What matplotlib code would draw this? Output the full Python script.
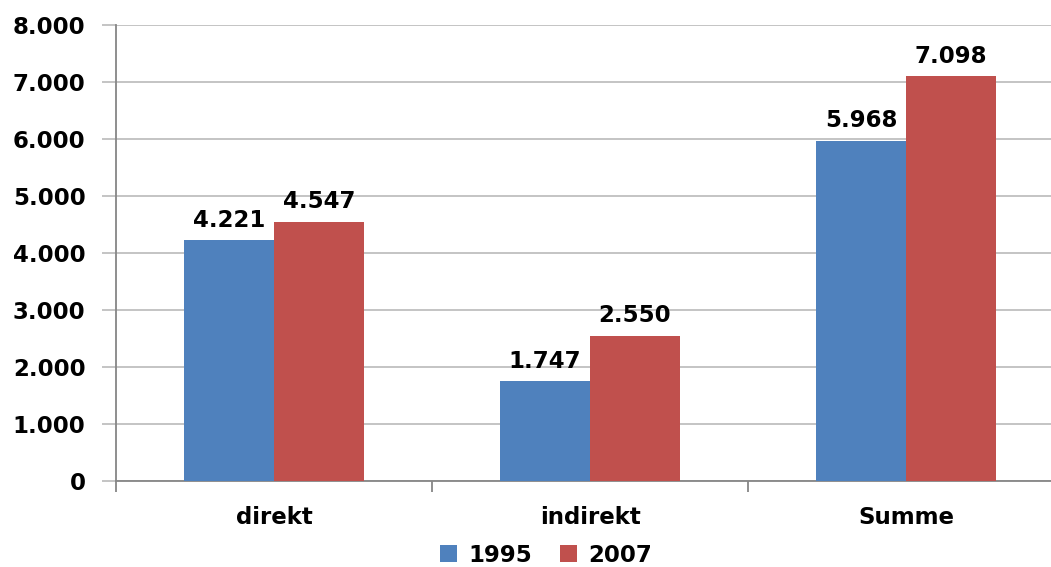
import numpy as np
import matplotlib.pyplot as plt

categories = ['direkt', 'indirekt', 'Summe']
series_names = ['1995', '2007']
values_1995 = [4221, 1747, 5968]
values_2007 = [4547, 2550, 7098]
yticks = [0, 1000, 2000, 3000, 4000, 5000, 6000, 7000, 8000]

colors = ['#4f81bd', '#c0504d']
fs = 16.5

def de_fmt(v):
    return '{:,.0f}'.format(v).replace(',', '.')

plt.rcParams['font.family'] = ['DejaVu Sans']
plt.rcParams['font.weight'] = 'bold'

fig = plt.figure(figsize=(10.51, 5.67), dpi=100)
ax = fig.add_axes([116 / 1051, 1 - 481 / 567, 948 / 1051, 456 / 567])

x = np.arange(len(categories))
w = 0.285
b1 = ax.bar(x - w / 2, values_1995, w, color=colors[0], label=series_names[0], zorder=3)
b2 = ax.bar(x + w / 2, values_2007, w, color=colors[1], label=series_names[1], zorder=3)

for bars, vals in [(b1, values_1995), (b2, values_2007)]:
    for r, v in zip(bars, vals):
        ax.annotate(de_fmt(v), (r.get_x() + r.get_width() / 2, v),
                    xytext=(0, 6), textcoords='offset points',
                    ha='center', va='bottom', fontsize=fs, fontweight='bold')

ax.set_xlim(-0.5, 2.5)
ax.set_ylim(0, 8000)
ax.set_yticks(yticks)
ax.set_yticklabels([de_fmt(v) for v in yticks], fontsize=fs, fontweight='bold')
ax.yaxis.grid(True, color='#bfbfbf', linewidth=1.3, zorder=0)
ax.set_axisbelow(True)

ax.set_xticks([-0.5, 0.5, 1.5, 2.5])
ax.set_xticklabels([])
ax.set_xticks(x, minor=True)
ax.set_xticklabels(categories, minor=True, fontsize=fs, fontweight='bold')
ax.tick_params(axis='x', which='minor', length=0, pad=18)
ax.tick_params(axis='x', which='major', length=8, color='#868686', width=1.3)
ax.tick_params(axis='y', length=10, color='#bfbfbf', width=1.3, pad=12)

for s in ['top', 'right']:
    ax.spines[s].set_visible(False)
for s in ['left', 'bottom']:
    ax.spines[s].set_color('#868686')
    ax.spines[s].set_linewidth(1.3)

fig.legend(handles=[b1, b2], labels=series_names, loc='center',
           bbox_to_anchor=(546 / 1051, 1 - 555 / 567), ncol=2, frameon=False,
           prop={'weight': 'bold', 'size': fs},
           handlelength=0.75, handleheight=0.75, handletextpad=0.5, columnspacing=1.2)

fig.savefig('out.png', dpi=100)
